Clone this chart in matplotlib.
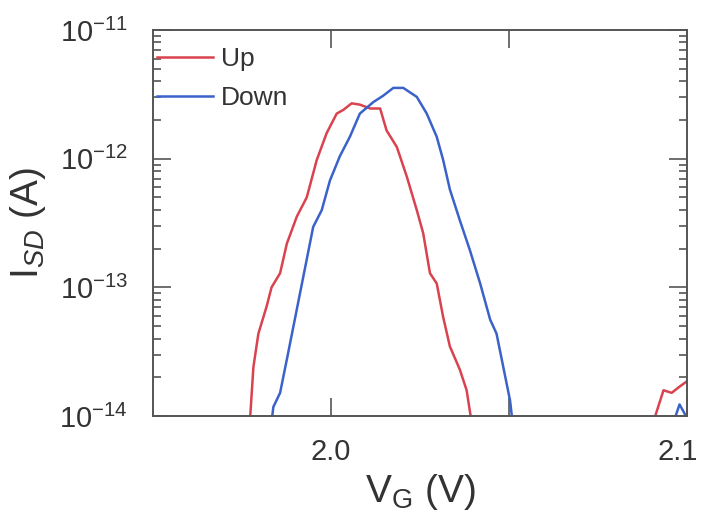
import numpy as np
import matplotlib.pyplot as plt
from matplotlib.ticker import LogLocator, NullFormatter, FixedLocator
from matplotlib.transforms import ScaledTranslation

plt.rcParams['font.family'] = ['Liberation Sans', 'DejaVu Sans']
plt.rcParams['mathtext.fontset'] = 'custom'
plt.rcParams['mathtext.rm'] = 'Liberation Sans'
plt.rcParams['mathtext.it'] = 'Liberation Sans:italic'

# 读图数据 (V, log10 I)
up_v = [1.9772, 1.9782, 1.9796, 1.9819, 1.9833, 1.9857, 1.9876, 1.9904, 1.9932, 1.9960,
        1.9988, 2.0016, 2.0035, 2.0058, 2.0081, 2.0110, 2.0138, 2.0156, 2.0185, 2.0213,
        2.0241, 2.0259, 2.0278, 2.0297, 2.0315, 2.0334, 2.0362, 2.0381, 2.0395]
up_log = [-14.05, -13.62, -13.36, -13.15, -13.00, -12.89, -12.66, -12.45, -12.30, -12.01,
          -11.80, -11.65, -11.62, -11.57, -11.58, -11.61, -11.61, -11.78, -11.91, -12.14,
          -12.40, -12.58, -12.89, -12.97, -13.23, -13.46, -13.64, -13.80, -14.05]
up2_v = [2.0905, 2.0934, 2.0957, 2.0980, 2.1000]
up2_log = [-14.05, -13.80, -13.82, -13.77, -13.73]

down_v = [1.9833, 1.9838, 1.9857, 1.9876, 1.9894, 1.9922, 1.9950, 1.9974, 1.9997, 2.0025,
          2.0053, 2.0081, 2.0119, 2.0147, 2.0175, 2.0203, 2.0241, 2.0269, 2.0297, 2.0315,
          2.0334, 2.0362, 2.0390, 2.0419, 2.0447, 2.0465, 2.0484, 2.0503, 2.0510]
down_log = [-14.05, -13.93, -13.82, -13.56, -13.31, -12.92, -12.53, -12.40, -12.17, -11.98,
            -11.83, -11.65, -11.56, -11.51, -11.45, -11.45, -11.52, -11.65, -11.83, -12.01,
            -12.24, -12.48, -12.71, -12.97, -13.25, -13.36, -13.62, -13.88, -14.05]
down2_v = [2.0962, 2.0979, 2.0995]
down2_log = [-14.05, -13.91, -13.99]

y_ticks = [1e-14, 1e-13, 1e-12, 1e-11]

red = '#d9434f'
blue = '#3b62c9'
txt = '#333333'

fig = plt.figure(figsize=(7.05, 5.24), dpi=100)
ax = fig.add_axes([153 / 705, 1 - 416 / 524, (687 - 153) / 705, (416 - 30) / 524])

ax.plot(up_v, 10 ** np.array(up_log), color=red, lw=1.8, label='Up')
ax.plot(down_v, 10 ** np.array(down_log), color=blue, lw=1.8, label='Down')
ax.plot(up2_v, 10 ** np.array(up2_log), color=red, lw=1.8)
ax.plot(down2_v, 10 ** np.array(down2_log), color=blue, lw=1.8)

ax.set_yscale('log')
ax.set_xlim(1.95, 2.1)
ax.set_ylim(1e-14, 1e-11)

ax.xaxis.set_major_locator(FixedLocator([2.0, 2.05, 2.1]))
ax.set_xticklabels(['2.0', '', '2.1'])
ax.yaxis.set_major_locator(FixedLocator(y_ticks))
ax.yaxis.set_minor_locator(LogLocator(base=10, subs=np.arange(2, 10), numticks=10))
ax.yaxis.set_minor_formatter(NullFormatter())

ax.tick_params(which='both', direction='in', top=True, right=True, colors='#555555',
               labelcolor=txt, labelsize=21, width=1.2)
ax.tick_params(which='major', length=13)
ax.tick_params(which='minor', length=6)
ax.tick_params(axis='y', pad=18)
ax.tick_params(axis='x', pad=16)
for s in ax.spines.values():
    s.set_color('#555555')
    s.set_linewidth(1.4)

# 2.1 标签略向左移，不出边
lab = ax.get_xticklabels()[-1]
lab.set_transform(lab.get_transform() + ScaledTranslation(-0.09, 0, fig.dpi_scale_trans))

ax.set_xlabel(r'V$_{\mathrm{G}}$ (V)', fontsize=28, color=txt, labelpad=4)
ax.set_ylabel(r'I$_{SD}$ (A)', fontsize=28, color=txt, labelpad=8)

leg = ax.legend(loc='upper left', bbox_to_anchor=(0.008, 0.955), frameon=False, fontsize=19,
                handlelength=2.1, handletextpad=0.3, borderaxespad=0, borderpad=0,
                labelspacing=0.55, labelcolor=txt)

fig.savefig('out.png', dpi=100)
